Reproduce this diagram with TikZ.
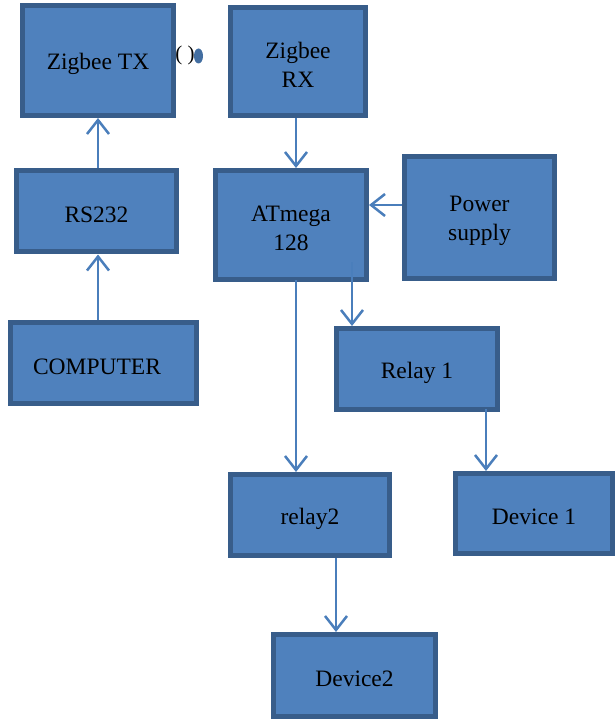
\documentclass[tikz,border=0pt]{standalone}
\usepackage{fontspec}
\setmainfont{Liberation Serif}
\usetikzlibrary{arrows.meta}
\definecolor{boxfill}{HTML}{4F81BD}
\definecolor{boxline}{HTML}{385D8A}
\definecolor{arrcol}{HTML}{4A7EBB}
\newcommand\dn[1]{\raisebox{-3.5pt}[\height][\depth]{#1}}
\begin{document}
\begin{tikzpicture}[x=1pt,y=-1pt,
  blk/.style={draw=boxline, fill=boxfill, line width=5pt, inner sep=0pt,
    align=center, font=\fontsize{23.5}{28.5}\selectfont},
  arr/.style={draw=arrcol, line width=2.5pt,
    -{Straight Barb[length=14pt,width=22pt,line width=2.5pt]}}]
\useasboundingbox (0,0) rectangle (615,719);
% boxes
\node[blk, minimum width=151pt, minimum height=110pt] (ztx) at (98,60.5) {\dn{Zigbee TX}};
\node[blk, minimum width=135pt, minimum height=108pt] (zrx) at (298,61.5) {\dn{Zigbee}\\\dn{RX}};
\node[blk, minimum width=160pt, minimum height=81pt] (rs) at (96.5,211) {\dn{RS232}};
\node[blk, minimum width=186pt, minimum height=81pt] (comp) at (103.5,363) {\dn{COMPUTER}\hspace*{13pt}};
\node[blk, minimum width=151pt, minimum height=109pt] (at) at (291,225) {\dn{ATmega}\\\dn{128}};
\node[blk, minimum width=150pt, minimum height=122pt] (ps) at (479.5,217.5) {\dn{Power}\\\dn{supply}};
\node[blk, minimum width=161pt, minimum height=81pt] (r1) at (417,369) {\dn{Relay 1}};
\node[blk, minimum width=159pt, minimum height=81pt] (r2) at (310,515) {\dn{relay2}};
\node[blk, minimum width=157pt, minimum height=80pt] (d1) at (534,513.5) {\dn{Device 1}};
\node[blk, minimum width=162pt, minimum height=82pt] (d2) at (354.5,675.5) {\dn{Device2}};
% small mark
\node[font=\fontsize{21}{24}\selectfont, inner sep=0pt] (par) at (185,55) {( )};
\fill[boxfill!85!black] (198.5,56) ellipse (4.5pt and 7.5pt);
% connector anchors
\coordinate (c1) at (98,320);   \coordinate (c2) at (98,254.5);
\coordinate (c3) at (98,168);   \coordinate (c4) at (98,118);
\coordinate (c5) at (296,118);  \coordinate (c6) at (296,168);
\coordinate (c7) at (402,205);  \coordinate (c8) at (369,205);
\coordinate (c9) at (352,262);  \coordinate (c10) at (352,326);
\coordinate (c11) at (296,280); \coordinate (c12) at (296,472);
\coordinate (c13) at (486,409); \coordinate (c14) at (486,471);
\coordinate (c15) at (336,558); \coordinate (c16) at (336,632);
\draw[arr] (c1) -- (c2);
\draw[arr] (c3) -- (c4);
\draw[arr] (c5) -- (c6);
\draw[arr] (c7) -- (c8);
\draw[arr] (c9) -- (c10);
\draw[arr] (c11) -- (c12);
\draw[arr] (c13) -- (c14);
\draw[arr] (c15) -- (c16);
\end{tikzpicture}
\end{document}
